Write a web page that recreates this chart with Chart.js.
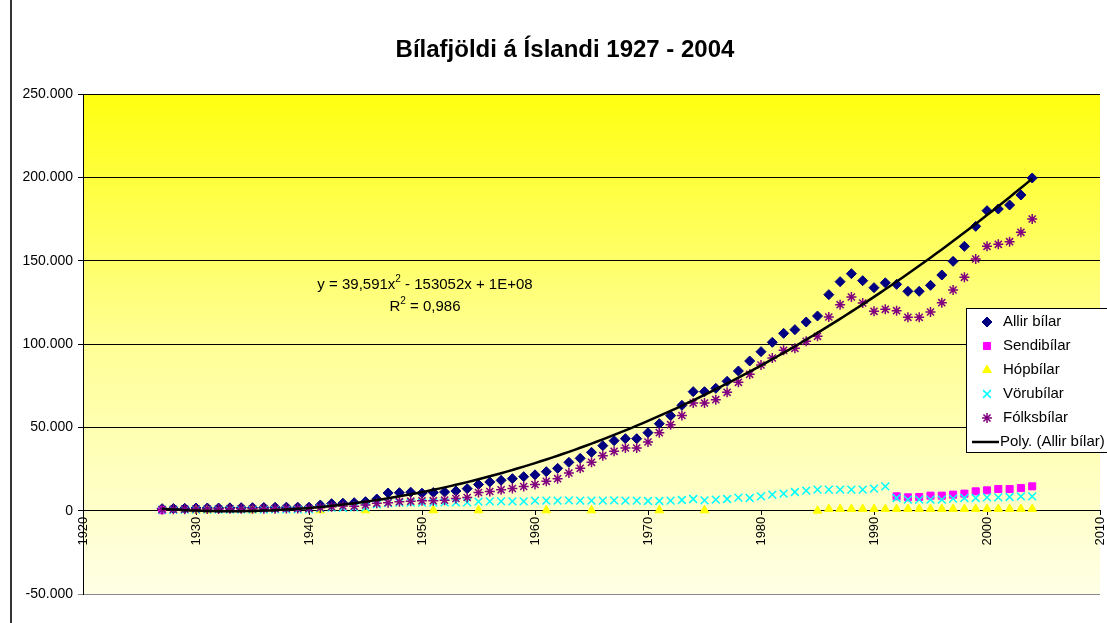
<!DOCTYPE html>
<html><head><meta charset="utf-8">
<script src="https://cdn.jsdelivr.net/npm/chart.js@4/dist/chart.umd.min.js"></script>
<style>html,body{margin:0;padding:0;background:#fff;}canvas{display:block;}</style>
</head><body>
<canvas id="c" width="1107" height="623"></canvas>
<script>
// ---- data ----
const years = [1927,1928,1929,
 1930,1931,1932,1933,1934,1935,1936,1937,1938,1939,
 1940,1941,1942,1943,1944,1945,1946,1947,1948,1949,
 1950,1951,1952,1953,1954,1955,1956,1957,1958,1959,
 1960,1961,1962,1963,1964,1965,1966,1967,1968,1969,
 1970,1971,1972,1973,1974,1975,1976,1977,1978,1979,
 1980,1981,1982,1983,1984,1985,1986,1987,1988,1989,
 1990,1991,1992,1993,1994,1995,1996,1997,1998,1999,
 2000,2001,2002,2003,2004];
const allirBilar = [1200,1300,1400,
 1600,1600,1600,1700,1800,1800,1900,2000,2100,2100,
 2100,3400,4200,4500,4800,5400,7000,10600,10800,11100,
 10500,10900,11200,11800,13200,15700,17200,18200,19200,20400,
 21500,23400,25400,29000,31400,35000,39000,42000,43200,43200,
 46800,52200,57000,63200,71400,71400,73400,77600,83800,89800,
 95400,101000,106400,108600,113200,116800,129600,137400,142200,138000,
 133800,136700,135800,131600,131600,135200,141400,149600,158600,170600,
 180000,181000,183400,189400,199600];
const folksbilar = [700,800,900,
 1000,1000,1000,1100,1100,1100,1200,1200,1300,1300,
 1300,1800,2400,2800,2700,3400,4400,4800,5400,5700,
 5900,6000,6300,7300,7900,10900,11500,12500,13300,14500,
 15700,17600,19200,22600,25400,29000,33000,35600,37600,37600,
 41200,46800,51600,57100,64600,64600,66600,71000,77000,81800,
 87400,91600,96200,97400,101600,104600,116200,123600,128200,124600,
 119600,120800,120000,116000,116000,119200,124800,132400,140000,151000,
 158600,159800,161400,167000,175000];
const vorubilar = [500,500,600,
 600,600,600,600,700,700,700,800,800,800,
 800,1500,1800,1700,2000,2000,3800,4600,4800,4800,
 4800,4800,5000,5000,5000,5400,5600,5600,5600,5600,
 6000,6000,6000,6200,6000,6000,6000,6200,6000,6000,
 5800,5800,6000,6400,7000,6200,6600,7000,7800,7600,
 8600,9600,10200,11200,12000,12600,12600,12600,12600,12600,
 13200,14600,7600,6600,6600,6600,6600,7200,7600,7600,
 8000,8000,8200,8600,8600];
const sendibilarYears = [1927,1992,1993,1994,1995,1996,1997,1998,1999,2000,2001,2002,2003,2004];
const sendibilar = [300,8600,8000,8200,9000,9000,9600,10200,11600,12200,13000,13000,13600,14600];
const hopbilarYears = [1930,1931,1935,1941,1945,1951,1955,1961,1965,1971,1975,
 1985,1986,1987,1988,1989,1990,1991,1992,1993,1994,1995,1996,1997,1998,1999,2000,2001,2002,2003,2004];
const hopbilar = [200,200,200,200,200,200,200,200,200,200,200,
 0,1000,1000,1000,1000,1000,1000,1000,1000,1000,1000,1000,1000,1000,1000,1000,1000,1000,1000,1000];
const seriesLabels = ['Allir bílar','Sendibílar','Hópbílar','Vörubílar','Fólksbílar','Poly. (Allir bílar)'];
const chartTitle = 'Bílafjöldi á Íslandi 1927 - 2004';
const trendLine1 = ['y = 39,591x', '2', ' - 153052x + 1E+08'];
const trendLine2 = ['R', '2', ' = 0,986'];

// ---- helpers ----
const pts = (xs, ys) => xs.map((x, i) => ({x, y: ys[i]}));
function fitQuadratic(xs, ys) {
  const n = xs.length, xm = xs.reduce((a, b) => a + b, 0) / n;
  const S = [0,0,0,0,0], T = [0,0,0];
  xs.forEach((x, i) => { const t = x - xm; let p = 1;
    for (let k = 0; k < 5; k++) { S[k] += p; if (k < 3) T[k] += ys[i] * p; p *= t; } });
  const A = [[S[0],S[1],S[2],T[0]],[S[1],S[2],S[3],T[1]],[S[2],S[3],S[4],T[2]]];
  for (let c = 0; c < 3; c++) { for (let r = c + 1; r < 3; r++) { const f = A[r][c] / A[c][c];
    for (let k = c; k < 4; k++) A[r][k] -= f * A[c][k]; } }
  const s = [0,0,0];
  for (let r = 2; r >= 0; r--) { let v = A[r][3]; for (let k = r + 1; k < 3; k++) v -= A[r][k] * s[k]; s[r] = v / A[r][r]; }
  return x => { const t = x - xm; return s[0] + s[1] * t + s[2] * t * t; };
}
const trendFn = fitQuadratic(years, allirBilar);
const trendPts = years.map(x => ({x, y: trendFn(x)}));
const fmt = v => { const s = Math.abs(v).toFixed(0).replace(/\B(?=(\d{3})+(?!\d))/g, '.'); return (v < 0 ? '-' : '') + s; };
const FONT = "'Liberation Sans', Arial, sans-serif";

function drawMarker(ctx, style, x, y, r, fill, stroke, lw) {
  ctx.save(); ctx.fillStyle = fill; ctx.strokeStyle = stroke; ctx.lineWidth = lw; ctx.beginPath();
  if (style === 'rectRot') { ctx.moveTo(x, y - r); ctx.lineTo(x + r, y); ctx.lineTo(x, y + r); ctx.lineTo(x - r, y); ctx.closePath(); ctx.fill(); ctx.stroke(); }
  else if (style === 'rect') { const h = r * Math.SQRT1_2; ctx.rect(x - h, y - h, 2 * h, 2 * h); ctx.fill(); ctx.stroke(); }
  else if (style === 'triangle') { for (let i = 0; i < 3; i++) { const a = i * 2 * Math.PI / 3; const px = x + Math.sin(a) * r, py = y - Math.cos(a) * r; i ? ctx.lineTo(px, py) : ctx.moveTo(px, py); } ctx.closePath(); ctx.fill(); ctx.stroke(); }
  else if (style === 'crossRot' || style === 'star') { const d = r * Math.SQRT1_2; ctx.moveTo(x - d, y - d); ctx.lineTo(x + d, y + d); ctx.moveTo(x + d, y - d); ctx.lineTo(x - d, y + d);
    if (style === 'star') { ctx.moveTo(x, y - r); ctx.lineTo(x, y + r); ctx.moveTo(x - r, y); ctx.lineTo(x + r, y); } ctx.stroke(); }
  else if (style === 'line') { ctx.moveTo(x - 15, y); ctx.lineTo(x + 12, y); ctx.stroke(); }
  ctx.restore();
}

const decor = {
  id: 'decor',
  beforeDraw(chart) {
    const {ctx, chartArea: a} = chart;
    ctx.save();
    ctx.fillStyle = '#fff'; ctx.fillRect(0, 0, chart.width, chart.height);
    const g = ctx.createLinearGradient(0, a.top, 0, a.bottom);
    g.addColorStop(0, '#FFFF10'); g.addColorStop(0.5, '#FFFF96'); g.addColorStop(1, '#FFFFE6');
    ctx.fillStyle = g; ctx.fillRect(a.left, a.top, a.right - a.left, a.bottom - a.top);
    ctx.strokeStyle = '#333'; ctx.lineWidth = 2; ctx.beginPath(); ctx.moveTo(11, 0); ctx.lineTo(11, chart.height); ctx.stroke();
    ctx.restore();
  },
  afterDraw(chart) {
    const {ctx} = chart;
    ctx.save();
    // title
    ctx.fillStyle = '#000'; ctx.font = 'bold 24px ' + FONT; ctx.textAlign = 'center'; ctx.textBaseline = 'middle';
    ctx.fillText(chartTitle, 565, 50);
    // trendline equation
    const drawSup = (parts, cx, cy) => {
      ctx.font = '15px ' + FONT; const w0 = ctx.measureText(parts[0]).width, w2 = ctx.measureText(parts[2]).width;
      ctx.font = '10px ' + FONT; const w1 = ctx.measureText(parts[1]).width;
      let x = cx - (w0 + w1 + w2) / 2; ctx.textAlign = 'left'; ctx.textBaseline = 'middle';
      ctx.font = '15px ' + FONT; ctx.fillText(parts[0], x, cy); x += w0;
      ctx.font = '10px ' + FONT; ctx.fillText(parts[1], x, cy - 6); x += w1;
      ctx.font = '15px ' + FONT; ctx.fillText(parts[2], x, cy);
    };
    drawSup(trendLine1, 425, 285);
    drawSup(trendLine2, 425, 307);
    // legend
    const L = 966, T = 308, B = 452;
    ctx.fillStyle = '#fff'; ctx.fillRect(L, T, chart.width - L + 5, B - T);
    ctx.strokeStyle = '#000'; ctx.lineWidth = 1; ctx.strokeRect(L + 0.5, T + 0.5, chart.width - L + 5, B - T);
    ctx.font = '15px ' + FONT; ctx.textAlign = 'left'; ctx.textBaseline = 'middle';
    chart.data.datasets.forEach((ds, i) => {
      const y = 322 + i * 24;
      const style = ds.showLine ? 'line' : ds.pointStyle;
      drawMarker(ctx, style, 987, y, ds.showLine ? 0 : ds.pointRadius, ds.backgroundColor, ds.borderColor, ds.showLine ? 2.5 : (ds.borderWidth || 1));
      ctx.fillStyle = '#000';
      ctx.fillText(ds.label, ds.showLine ? 1000 : 1003, y);
    });
    ctx.restore();
  }
};

new Chart(document.getElementById('c'), {
  type: 'scatter',
  data: { datasets: [
    { label: seriesLabels[0], data: pts(years, allirBilar), pointStyle: 'rectRot', pointRadius: 5, backgroundColor: '#000080', borderColor: '#000080', borderWidth: 1, order: 5 },
    { label: seriesLabels[1], data: pts(sendibilarYears, sendibilar), pointStyle: 'rect', pointRadius: 5, backgroundColor: '#FF00FF', borderColor: '#FF00FF', borderWidth: 1, order: 4 },
    { label: seriesLabels[2], data: pts(hopbilarYears, hopbilar), pointStyle: 'triangle', pointRadius: 5, backgroundColor: '#FFFF00', borderColor: '#FFFF00', borderWidth: 1, order: 3 },
    { label: seriesLabels[3], data: pts(years, vorubilar), pointStyle: 'crossRot', pointRadius: 5.5, backgroundColor: '#00FFFF', borderColor: '#00FFFF', borderWidth: 1.5, order: 2 },
    { label: seriesLabels[4], data: pts(years, folksbilar), pointStyle: 'star', pointRadius: 5, backgroundColor: '#800080', borderColor: '#800080', borderWidth: 1.5, order: 1 },
    { label: seriesLabels[5], data: trendPts, showLine: true, pointRadius: 0, borderColor: '#000', backgroundColor: '#000', borderWidth: 2.5, tension: 0.3, order: 0 }
  ]},
  options: {
    responsive: false, animation: false, devicePixelRatio: 1,
    layout: { padding: { left: 0, right: 7, top: 94, bottom: 29 } },
    plugins: { legend: { display: false }, title: { display: false }, tooltip: { enabled: false } },
    scales: {
      x: { type: 'linear', position: { y: 0 }, min: 1920, max: 2010,
        ticks: { stepSize: 10, minRotation: 90, maxRotation: 90, autoSkip: false, padding: 2, color: '#000', font: { family: FONT, size: 13 }, callback: v => String(v) },
        grid: { drawOnChartArea: false, drawTicks: true, tickLength: 4, color: '#000' },
        border: { color: '#000', width: 1 },
        afterFit(s) { s.paddingLeft = 0; s.paddingRight = 0; } },
      y: { min: -50000, max: 250000,
        ticks: { stepSize: 50000, padding: 5, color: '#000', font: { family: FONT, size: 14 }, callback: v => fmt(v) },
        grid: { color: c => c.tick && c.tick.value === -50000 ? '#888' : '#000', tickLength: 5, lineWidth: 1 },
        border: { color: '#000', width: 1 },
        afterFit(s) { s.width = 83; } }
    }
  },
  plugins: [decor]
});
</script>
</body></html>
